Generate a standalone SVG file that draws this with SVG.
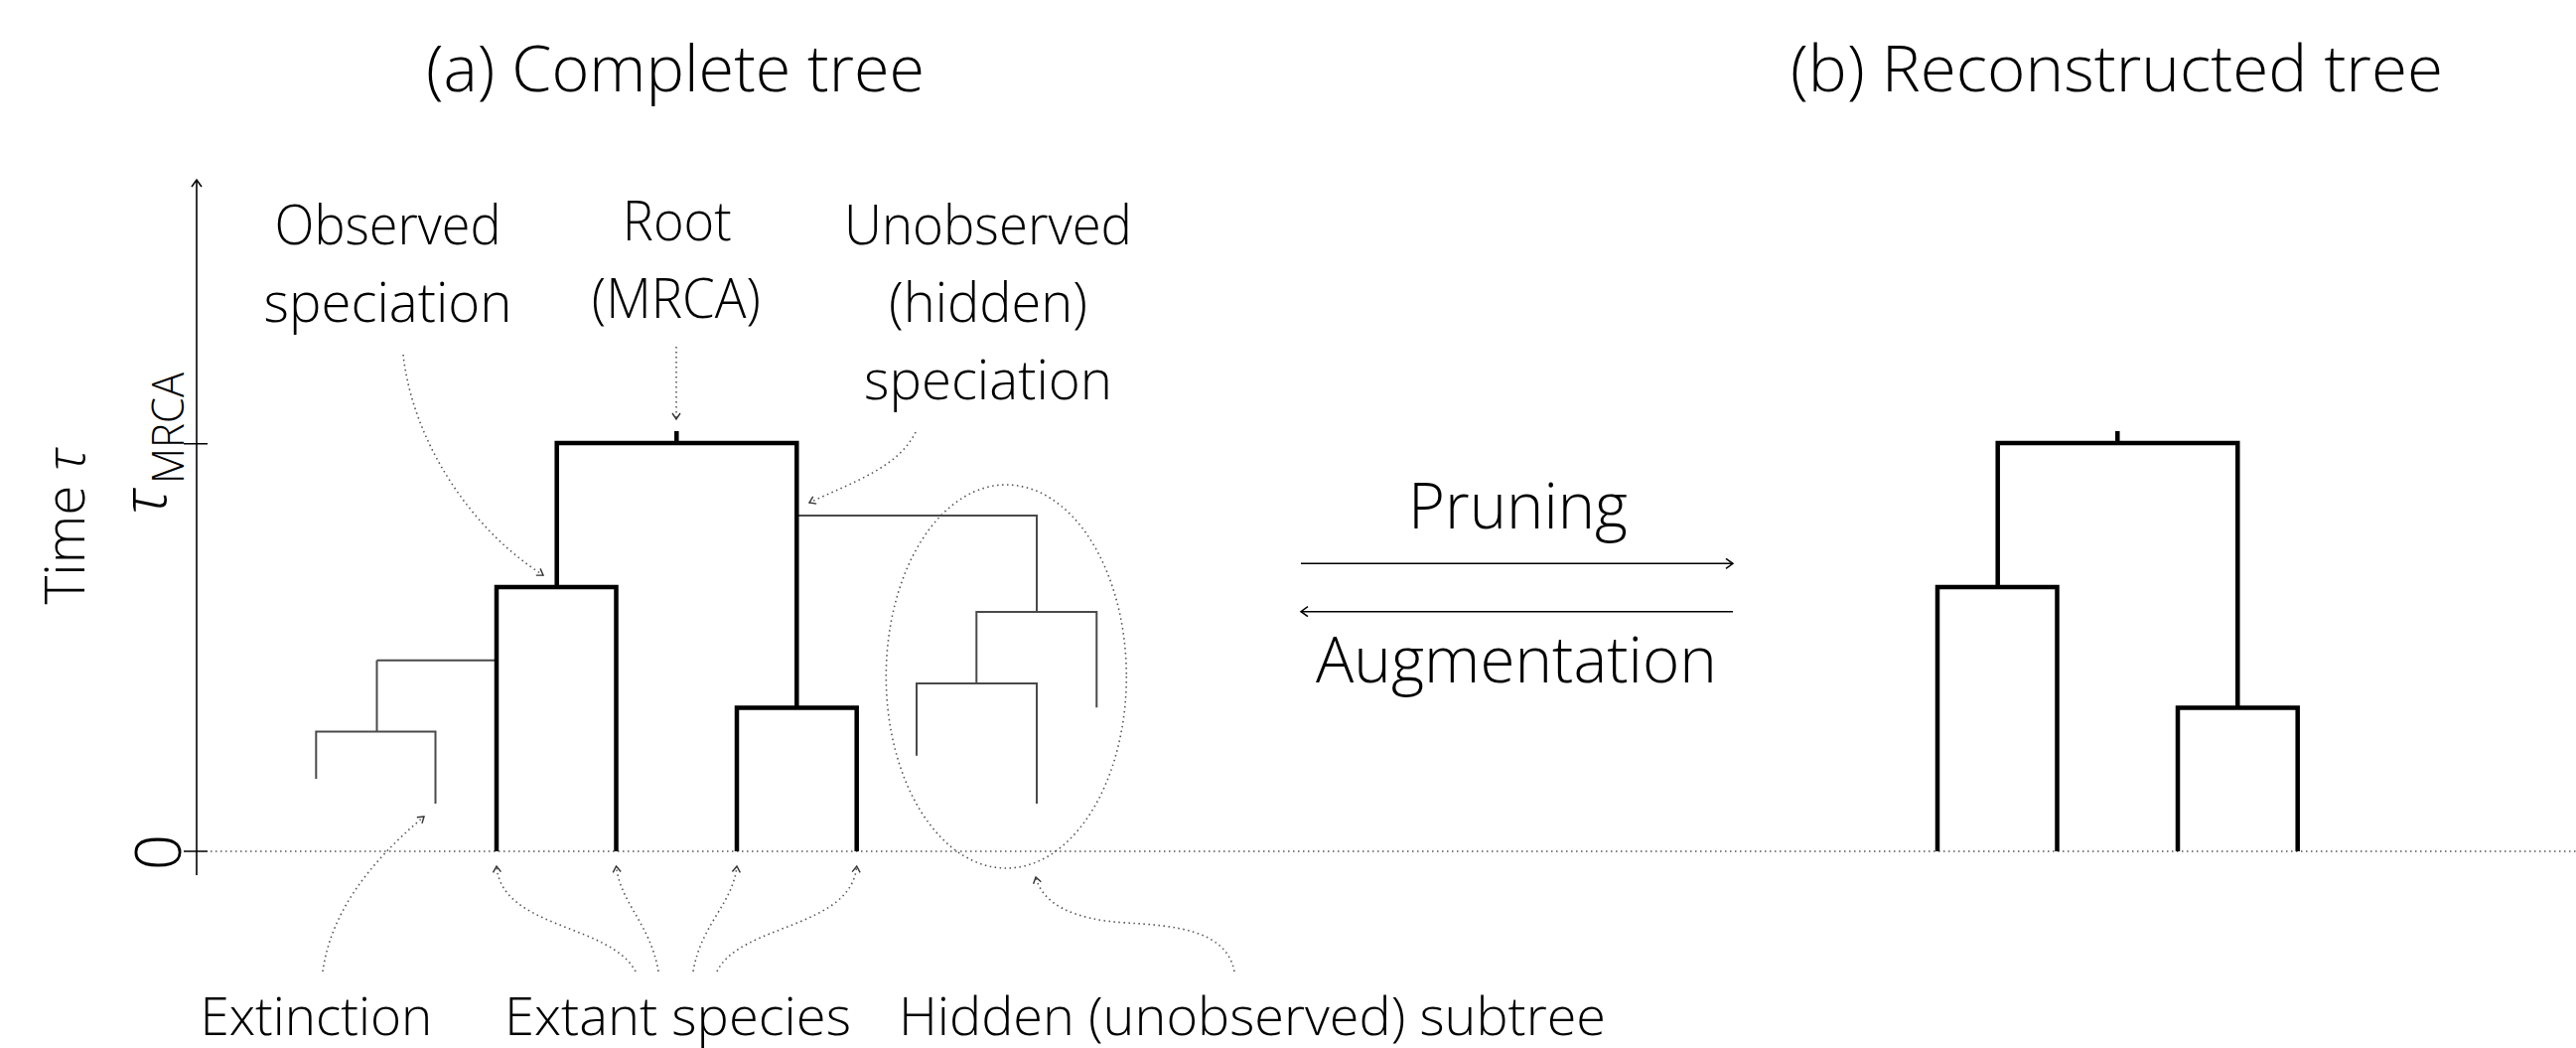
<svg xmlns="http://www.w3.org/2000/svg" width="2594" height="1055" viewBox="0 0 2594 1055">
<defs>
<style>
text{font-family:"Open Sans","Lato","Liberation Sans",sans-serif;font-weight:300;fill:#000}
.t{font-size:64px;text-anchor:middle}
.l{font-size:56px;text-anchor:middle}
.b{font-size:54px;text-anchor:middle}
.thick{fill:none;stroke:#000;stroke-width:4.5;stroke-linejoin:miter;stroke-linecap:butt}
.thin{fill:none;stroke:#4a4a4a;stroke-width:2}
.dot{fill:none;stroke:#555;stroke-width:1.6;stroke-dasharray:1.5 3.5}
.ax{fill:none;stroke:#000;stroke-width:1.6}
</style>
<marker id="ah" viewBox="-10 -6 12 12" refX="0" refY="0" markerWidth="12" markerHeight="12" markerUnits="userSpaceOnUse" orient="auto" overflow="visible">
<path d="M-6,-4 L0,0 L-6,4" fill="none" stroke="#333" stroke-width="1.4"/>
</marker>
<marker id="ahb" viewBox="-10 -6 12 12" refX="0" refY="0" markerWidth="12" markerHeight="12" markerUnits="userSpaceOnUse" orient="auto" overflow="visible">
<path d="M-7,-5 L0,0 L-7,5" fill="none" stroke="#000" stroke-width="1.5"/>
</marker>
</defs>
<rect width="2594" height="1055" fill="#fff"/>

<g id="titles">
<text class="t" x="680" y="92" textLength="502" lengthAdjust="spacingAndGlyphs">(a) Complete tree</text>
<text class="t" x="2131.5" y="92" textLength="657" lengthAdjust="spacingAndGlyphs">(b) Reconstructed tree</text>
</g>

<g id="axis">
<path class="ax" d="M198,881 V181" marker-end="url(#ahb)"/>
<path class="ax" d="M185,446.7 H209 M185,857 H209"/>
<path class="dot" d="M212,857 H2594"/>
<text font-size="55" text-anchor="middle" transform="translate(85,530) rotate(-90)">Time <tspan font-style="italic">τ</tspan></text>
<text font-size="64" text-anchor="middle" transform="translate(182,858) rotate(-90)">0</text>
<text font-size="62" font-style="italic" transform="translate(167,518) rotate(-90)">τ</text>
<text font-size="45" transform="translate(185,487) rotate(-90)" textLength="112" lengthAdjust="spacingAndGlyphs">MRCA</text>
</g>

<g id="complete-tree">
<path class="thin" d="M379.5,664.7 H500 M379.5,664.7 V736.5 M318.3,784 V736.5 H438.5 V809"/>
<path class="thin" d="M802.3,519 H1044 V616 M983.3,688 V616 H1104.3 V712.3 M923,760.7 V688 H1044 V809"/>
<path class="thick" d="M500,857 V591 H620.5 V857"/>
<path class="thick" d="M560.7,591 V446 H802.3 V712.5"/>
<path class="thick" d="M742,857 V712.5 H862.7 V857"/>
<path class="thick" d="M681.3,434 V446"/>
</g>

<g id="hidden-subtree">
<ellipse class="dot" cx="1013.3" cy="681" rx="121" ry="193"/>
</g>

<g id="reconstructed-tree">
<path class="thick" d="M1951,857 V591 H2071.5 V857"/>
<path class="thick" d="M2011.7,591 V446 H2253.3 V712.5"/>
<path class="thick" d="M2193,857 V712.5 H2313.7 V857"/>
<path class="thick" d="M2132.3,434 V446"/>
</g>

<g id="labels">
<text class="l" x="390.6" y="245.7" textLength="228" lengthAdjust="spacingAndGlyphs">Observed</text>
<text class="l" x="390.6" y="324" textLength="250" lengthAdjust="spacingAndGlyphs">speciation</text>
<text class="l" x="681.8" y="241.8" textLength="110" lengthAdjust="spacingAndGlyphs">Root</text>
<text class="l" x="680.8" y="320.3" textLength="170" lengthAdjust="spacingAndGlyphs">(MRCA)</text>
<text class="l" x="995" y="245.7" textLength="290" lengthAdjust="spacingAndGlyphs">Unobserved</text>
<text class="l" x="995" y="324" textLength="200" lengthAdjust="spacingAndGlyphs">(hidden)</text>
<text class="l" x="995" y="402.3" textLength="250" lengthAdjust="spacingAndGlyphs">speciation</text>
<text class="t" x="1528.5" y="531.7" textLength="221" lengthAdjust="spacingAndGlyphs">Pruning</text>
<text class="t" x="1527" y="686.7" textLength="404" lengthAdjust="spacingAndGlyphs">Augmentation</text>
<text class="b" x="318.4" y="1042" textLength="234" lengthAdjust="spacingAndGlyphs">Extinction</text>
<text class="b" x="682.5" y="1042" textLength="349" lengthAdjust="spacingAndGlyphs">Extant species</text>
<text class="b" x="1261" y="1042" textLength="712" lengthAdjust="spacingAndGlyphs">Hidden (unobserved) subtree</text>
</g>

<g id="connectors">
<path class="ax" d="M1310,567.3 H1745" marker-end="url(#ahb)"/>
<path class="ax" d="M1745,615.7 H1310" marker-end="url(#ahb)"/>
<path class="dot" d="M406,357 C415,440 470,530 547,579" marker-end="url(#ah)"/>
<path class="dot" d="M681,349 V422" marker-end="url(#ah)"/>
<path class="dot" d="M922,435 C905,470 860,485 815,506" marker-end="url(#ah)"/>
<path class="dot" d="M325,978 C333,920 370,870 427,822" marker-end="url(#ah)"/>
<path class="dot" d="M640,978 C615,930 505,935 500,872" marker-end="url(#ah)"/>
<path class="dot" d="M663,978 C655,930 625,910 620.5,872" marker-end="url(#ah)"/>
<path class="dot" d="M698,978 C706,930 738,910 742,872" marker-end="url(#ah)"/>
<path class="dot" d="M722,978 C745,930 857,935 862.7,872" marker-end="url(#ah)"/>
<path class="dot" d="M1243,978 C1235,935 1180,932 1135,929 C1080,926 1050,910 1043,883" marker-end="url(#ah)"/>
</g>
</svg>
